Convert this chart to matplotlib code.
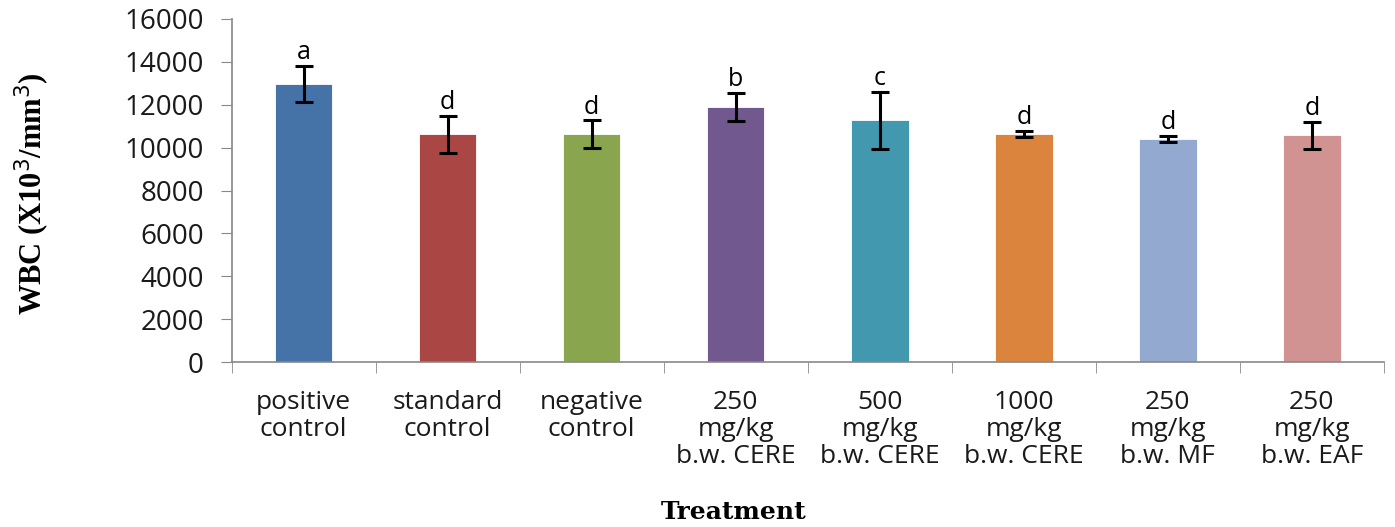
import numpy as np
from matplotlib import pyplot as plt

categories = ['positive\ncontrol', 'standard\ncontrol', 'negative\ncontrol',
              '250\nmg/kg\nb.w. CERE', '500\nmg/kg\nb.w. CERE', '1000\nmg/kg\nb.w. CERE',
              '250\nmg/kg\nb.w. MF', '250\nmg/kg\nb.w. EAF']
wbc = [12980, 10620, 10620, 11900, 11280, 10630, 10400, 10580]
wbc_err = [830, 850, 650, 650, 1330, 140, 140, 630]
letters = ['a', 'd', 'd', 'b', 'c', 'd', 'd', 'd']
colors = ['#4572A7', '#AA4643', '#89A54E', '#71588F', '#4198AF', '#DB843D', '#93A9CF', '#D19392']

fig = plt.figure(figsize=(13.95, 5.27), dpi=100)
ax = fig.add_axes([0.166, 0.313, 0.826, 0.651])

x = np.arange(len(categories))
ax.bar(x, wbc, width=0.4, color=colors, edgecolor='white', linewidth=0.6)
ax.errorbar(x, wbc, yerr=wbc_err, fmt='none', ecolor='black', elinewidth=2.2, capsize=6.5, capthick=2.2)
for xi, v, e, lt in zip(x, wbc, wbc_err, letters):
    ax.text(xi, v + e + 40, lt, ha='center', va='bottom', fontsize=18, family='Open Sans')

ax.set_xlim(-0.5, len(categories) - 0.5)
ax.set_ylim(0, 16000)
ax.set_yticks(range(0, 16001, 2000))
ax.set_xticks(x)
ax.set_xticklabels(categories, fontsize=19, family='Open Sans', color='#1a1a1a', linespacing=1.1)
ax.set_xticks(np.arange(-0.5, len(categories), 1), minor=True)
ax.tick_params(axis='x', which='major', length=0, pad=20)
ax.tick_params(axis='x', which='minor', length=8, color='#888888', direction='out')
ax.tick_params(axis='y', length=8, color='#888888', labelsize=20, pad=12)
for lb in ax.get_yticklabels():
    lb.set_family('Open Sans')
    lb.set_color('#1a1a1a')

for s in ['top', 'right']:
    ax.spines[s].set_visible(False)
for s in ['left', 'bottom']:
    ax.spines[s].set_color('#888888')
    ax.spines[s].set_linewidth(1.2)

ax.set_ylabel('WBC (X10$^3$/mm$^3$)', family='Liberation Serif', fontweight='bold', fontsize=22,
              va='center')
ax.yaxis.set_label_coords(-0.173, 0.49)
fig.text(0.526, 0.028, 'Treatment', ha='center', va='center', family='DejaVu Serif',
         fontweight='bold', fontsize=18)

fig.savefig('out.png', dpi=100)
